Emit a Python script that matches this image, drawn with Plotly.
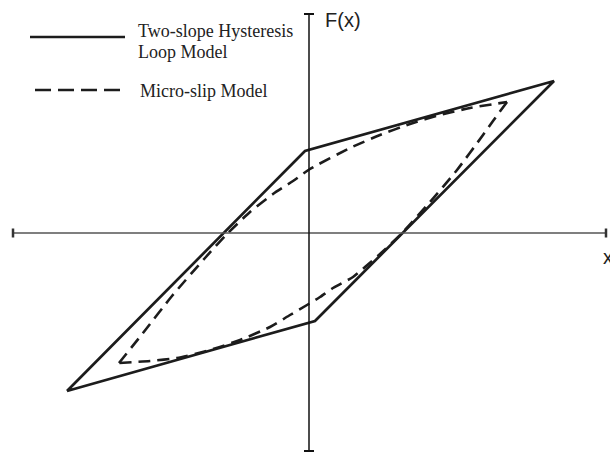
import plotly.graph_objects as go

# Two-slope hysteresis loop (corner points, closed)
loop_x = [-2.42, -0.04, 2.45, 0.06, -2.42]
loop_f = [-1.58, 0.82, 1.52, -0.88, -1.58]

# Micro-slip model: loading branch (lower-left tip -> upper-right tip)
slip_up_x = [-1.90, -1.66, -1.37, -1.04, -0.83, -0.59, -0.36, -0.16, 0.01,
             0.41, 0.71, 1.01, 1.31, 1.61, 1.98]
slip_up_f = [-1.30, -1.00, -0.63, -0.25, -0.02, 0.21, 0.39, 0.52, 0.64,
             0.85, 0.98, 1.09, 1.18, 1.25, 1.31]

# Micro-slip model: unloading branch (upper-right tip -> lower-left tip)
slip_dn_x = [1.98, 1.84, 1.74, 1.48, 1.21, 0.93, 0.71, 0.56, 0.44, 0.24,
             0.11, -0.02, -0.19, -0.39, -0.69, -0.99, -1.32, -1.59, -1.90]
slip_dn_f = [1.31, 1.12, 0.98, 0.63, 0.31, 0.00, -0.21, -0.34, -0.44, -0.55,
             -0.64, -0.72, -0.82, -0.94, -1.07, -1.17, -1.25, -1.28, -1.30]

legend_lines = ["Two-slope Hysteresis", "Loop Model", "Micro-slip Model"]
axis_labels = ["x", "F(x)"]

W, H = 610, 452
X_RANGE = [-3.09, 3.01]
Y_RANGE = [-2.19, 2.33]
INK = "#1c1c1c"
DASH = "12px,7px"


def px(v):
    return v / W


def py(v):
    return 1 - v / H


fig = go.Figure()

fig.add_trace(go.Scatter(
    x=loop_x, y=loop_f, mode="lines",
    line=dict(color=INK, width=2.7), showlegend=False, hoverinfo="skip"))

for xs, fs in [(slip_up_x, slip_up_f), (slip_dn_x, slip_dn_f)]:
    fig.add_trace(go.Scatter(
        x=xs, y=fs, mode="lines",
        line=dict(color=INK, width=2.6, dash=DASH, shape="spline", smoothing=0.6),
        showlegend=False, hoverinfo="skip"))

shapes = []
# horizontal axis with end ticks
x_lo, x_hi = -2.96, 2.97
shapes.append(dict(type="line", xref="x", yref="y", x0=x_lo, x1=x_hi, y0=0, y1=0,
                   line=dict(color="#555555", width=1.6)))
for xe in (x_lo, x_hi):
    shapes.append(dict(type="line", xref="x", yref="y", x0=xe, x1=xe, y0=-0.045, y1=0.045,
                       line=dict(color="#333333", width=2.5)))
# vertical axis with end ticks
f_lo, f_hi = -2.18, 2.19
shapes.append(dict(type="line", xref="x", yref="y", x0=0, x1=0, y0=f_lo, y1=f_hi,
                   line=dict(color="#111111", width=1.5)))
for fe in (f_lo, f_hi):
    shapes.append(dict(type="line", xref="x", yref="y", x0=-0.05, x1=0.05, y0=fe, y1=fe,
                       line=dict(color="#111111", width=2)))

# legend line samples
shapes.append(dict(type="line", xref="paper", yref="paper",
                   x0=px(30), x1=px(125), y0=py(37), y1=py(37),
                   line=dict(color=INK, width=2.5)))
shapes.append(dict(type="line", xref="paper", yref="paper",
                   x0=px(35), x1=px(127), y0=py(90), y1=py(90),
                   line=dict(color=INK, width=2.5, dash="16px,7px")))

serif = dict(family="Liberation Serif, Times New Roman, serif", size=18, color="#222222")
sans = dict(family="Liberation Sans, Arial, sans-serif", size=20, color="#222222")

annotations = [
    dict(xref="paper", yref="paper", x=px(136), y=py(31.5), xanchor="left", yanchor="middle",
         text=legend_lines[0], showarrow=False, align="left", font=serif),
    dict(xref="paper", yref="paper", x=px(136), y=py(52), xanchor="left", yanchor="middle",
         text=legend_lines[1], showarrow=False, align="left", font=serif),
    dict(xref="paper", yref="paper", x=px(138), y=py(91), xanchor="left", yanchor="middle",
         text=legend_lines[2], showarrow=False, align="left", font=serif),
    dict(xref="paper", yref="paper", x=px(323), y=py(20), xanchor="left", yanchor="middle",
         text=axis_labels[1], showarrow=False, font=sans),
    dict(xref="paper", yref="paper", x=px(601), y=py(257), xanchor="left", yanchor="middle",
         text=axis_labels[0], showarrow=False, font=sans),
]

fig.update_layout(
    width=W, height=H, autosize=False,
    margin=dict(l=0, r=0, t=0, b=0, pad=0),
    paper_bgcolor="white", plot_bgcolor="white",
    xaxis=dict(range=X_RANGE, visible=False, fixedrange=True),
    yaxis=dict(range=Y_RANGE, visible=False, fixedrange=True),
    shapes=shapes, annotations=annotations,
)

fig.write_html("out.html")
